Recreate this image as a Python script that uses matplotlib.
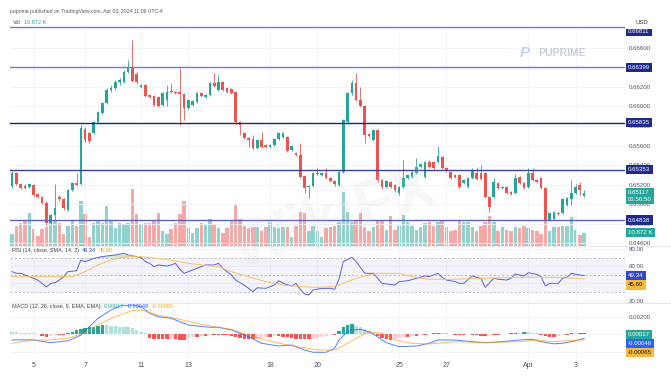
import matplotlib
matplotlib.use("Agg")
import matplotlib.pyplot as plt
from matplotlib.lines import Line2D
from matplotlib.transforms import Bbox, TransformedBbox
import numpy as np

plt.rcParams['font.family'] = ['Liberation Sans', 'DejaVu Sans']

# 4h candles, Mar 4 -> Apr 3
opens = [0.65185, 0.65318, 0.65205, 0.65185, 0.65174, 0.65195, 0.65103, 0.65072, 0.65011, 0.64806,
         0.64888, 0.65072, 0.65052, 0.64939, 0.65144, 0.65215, 0.65205, 0.65768, 0.65727, 0.65727,
         0.65840, 0.65932, 0.66034, 0.66167, 0.66188, 0.66249, 0.66249, 0.66352, 0.66392, 0.66331,
         0.66198, 0.66219, 0.66116, 0.66106, 0.66096, 0.66014, 0.66065, 0.66157, 0.66147, 0.66147,
         0.66126, 0.65983, 0.66014, 0.66045, 0.66137, 0.66096, 0.66116, 0.66239, 0.66167, 0.66249,
         0.66188, 0.66178, 0.66147, 0.65840, 0.65727, 0.65676, 0.65666, 0.65574, 0.65656, 0.65604,
         0.65584, 0.65604, 0.65666, 0.65686, 0.65686, 0.65553, 0.65522, 0.65502, 0.65287, 0.65174,
         0.65185, 0.65308, 0.65297, 0.65318, 0.65267, 0.65236, 0.65195, 0.65328, 0.65840, 0.66137,
         0.66239, 0.66065, 0.66004, 0.65717, 0.65656, 0.65758, 0.65246, 0.65174, 0.65226, 0.65195,
         0.65113, 0.65174, 0.65267, 0.65277, 0.65318, 0.65379, 0.65277, 0.65430, 0.65430, 0.65430,
         0.65482, 0.65369, 0.65328, 0.65297, 0.65297, 0.65215, 0.65174, 0.65267, 0.65318, 0.65318,
         0.65318, 0.65072, 0.65072, 0.65215, 0.65164, 0.65174, 0.65123, 0.65113, 0.65277, 0.65215,
         0.65174, 0.65318, 0.65246, 0.65267, 0.65164, 0.64837, 0.64847, 0.64909, 0.64909, 0.64990,
         0.65052, 0.65113, 0.65195, 0.65082]
highs = [0.65338, 0.65328, 0.65215, 0.65205, 0.65215, 0.65205, 0.65113, 0.65082, 0.65031, 0.64898,
         0.65205, 0.65093, 0.65062, 0.65154, 0.65226, 0.65318, 0.65809, 0.65789, 0.65738, 0.65850,
         0.65953, 0.66045, 0.66188, 0.66219, 0.66270, 0.66290, 0.66372, 0.66474, 0.66679, 0.66352,
         0.66229, 0.66229, 0.66126, 0.66116, 0.66106, 0.66147, 0.66219, 0.66239, 0.66157, 0.66392,
         0.66137, 0.66075, 0.66065, 0.66147, 0.66147, 0.66126, 0.66249, 0.66341, 0.66321, 0.66260,
         0.66198, 0.66188, 0.66157, 0.65850, 0.65738, 0.65686, 0.65707, 0.65666, 0.65738, 0.65615,
         0.65615, 0.65676, 0.65738, 0.65738, 0.65697, 0.65604, 0.65533, 0.65625, 0.65297, 0.65195,
         0.65328, 0.65369, 0.65328, 0.65369, 0.65277, 0.65246, 0.65338, 0.65871, 0.66147, 0.66270,
         0.66341, 0.66198, 0.66014, 0.65727, 0.65768, 0.65768, 0.65256, 0.65246, 0.65236, 0.65205,
         0.65185, 0.65451, 0.65308, 0.65338, 0.65471, 0.65420, 0.65440, 0.65451, 0.65440, 0.65594,
         0.65492, 0.65379, 0.65338, 0.65308, 0.65308, 0.65256, 0.65277, 0.65369, 0.65379, 0.65400,
         0.65328, 0.65082, 0.65267, 0.65226, 0.65185, 0.65185, 0.65134, 0.65308, 0.65287, 0.65226,
         0.65369, 0.65369, 0.65256, 0.65277, 0.65174, 0.64919, 0.64929, 0.64919, 0.65062, 0.65072,
         0.65246, 0.65205, 0.65226, 0.65144]
lows = [0.65164, 0.65195, 0.65154, 0.65154, 0.65164, 0.65082, 0.65062, 0.65001, 0.64786, 0.64796,
        0.64827, 0.65031, 0.64939, 0.64929, 0.65134, 0.65185, 0.65195, 0.65635, 0.65625, 0.65717,
        0.65830, 0.65922, 0.66024, 0.66147, 0.66167, 0.66219, 0.66239, 0.66341, 0.66249, 0.66229,
        0.66188, 0.66096, 0.66086, 0.66004, 0.65993, 0.66004, 0.66004, 0.66137, 0.66126, 0.65809,
        0.65861, 0.65973, 0.66004, 0.66034, 0.66096, 0.66086, 0.66106, 0.66198, 0.66157, 0.66157,
        0.66137, 0.66126, 0.65819, 0.65707, 0.65666, 0.65584, 0.65563, 0.65563, 0.65574, 0.65574,
        0.65574, 0.65594, 0.65656, 0.65676, 0.65533, 0.65543, 0.65492, 0.65267, 0.65113, 0.65062,
        0.65174, 0.65297, 0.65287, 0.65256, 0.65226, 0.65185, 0.65185, 0.65318, 0.65819, 0.66116,
        0.66055, 0.65993, 0.65625, 0.65686, 0.65645, 0.65226, 0.65154, 0.65164, 0.65164, 0.65123,
        0.65093, 0.65164, 0.65256, 0.65267, 0.65308, 0.65369, 0.65267, 0.65369, 0.65359, 0.65420,
        0.65359, 0.65328, 0.65256, 0.65267, 0.65164, 0.65205, 0.65164, 0.65256, 0.65246, 0.65246,
        0.65062, 0.64919, 0.65062, 0.65154, 0.65154, 0.65103, 0.65093, 0.65103, 0.65205, 0.65154,
        0.65164, 0.65236, 0.65215, 0.65154, 0.64827, 0.64827, 0.64837, 0.64888, 0.64898, 0.64980,
        0.64990, 0.65103, 0.65093, 0.65072]
closes = [0.65318, 0.65205, 0.65164, 0.65164, 0.65205, 0.65093, 0.65072, 0.65011, 0.64806, 0.64888,
          0.64960, 0.65052, 0.64960, 0.65144, 0.65215, 0.65195, 0.65779, 0.65656, 0.65645, 0.65840,
          0.65942, 0.66034, 0.66167, 0.66188, 0.66249, 0.66270, 0.66352, 0.66392, 0.66260, 0.66249,
          0.66219, 0.66106, 0.66096, 0.66014, 0.66004, 0.66137, 0.66147, 0.66147, 0.66137, 0.66126,
          0.65983, 0.66065, 0.66055, 0.66137, 0.66106, 0.66116, 0.66239, 0.66208, 0.66249, 0.66167,
          0.66147, 0.66137, 0.65840, 0.65809, 0.65676, 0.65656, 0.65574, 0.65656, 0.65584, 0.65584,
          0.65604, 0.65666, 0.65727, 0.65727, 0.65543, 0.65594, 0.65502, 0.65277, 0.65164, 0.65185,
          0.65318, 0.65318, 0.65318, 0.65267, 0.65236, 0.65205, 0.65328, 0.65861, 0.66137, 0.66239,
          0.66065, 0.66004, 0.65707, 0.65697, 0.65758, 0.65246, 0.65174, 0.65236, 0.65174, 0.65144,
          0.65174, 0.65267, 0.65297, 0.65328, 0.65379, 0.65410, 0.65430, 0.65379, 0.65369, 0.65492,
          0.65369, 0.65338, 0.65267, 0.65277, 0.65174, 0.65246, 0.65267, 0.65348, 0.65256, 0.65256,
          0.65072, 0.64970, 0.65226, 0.65164, 0.65174, 0.65113, 0.65103, 0.65267, 0.65215, 0.65164,
          0.65318, 0.65246, 0.65226, 0.65164, 0.64837, 0.64909, 0.64919, 0.64898, 0.65052, 0.65062,
          0.65113, 0.65174, 0.65144, 0.65117]
# volume in thousands
volumes = [10, 17, 19, 21, 28, 14, 8, 14, 16, 21, 21, 19, 10, 17, 21, 17, 38, 27, 7, 19,
           21, 19, 34, 21, 15, 19, 18, 19, 48, 27, 18, 19, 19, 21, 28, 12, 10, 14, 19, 27,
           38, 15, 11, 15, 19, 18, 23, 18, 15, 11, 15, 22, 35, 23, 17, 15, 16, 16, 12, 16,
           20, 16, 15, 16, 16, 7, 17, 29, 28, 12, 17, 12, 7, 15, 16, 17, 20, 46, 29, 20,
           22, 28, 16, 12, 16, 22, 22, 13, 25, 13, 17, 26, 20, 17, 13, 16, 19, 20, 17, 20,
           22, 16, 12, 13, 22, 20, 20, 16, 12, 17, 20, 25, 20, 12, 16, 13, 12, 16, 15, 17,
           15, 13, 12, 10, 22, 12, 16, 16, 17, 17, 24, 13, 9, 10.872]

# RSI (14) and its SMA, sampled along the candles
rsi_idx = [0, 1, 2, 3, 4, 5, 6, 8, 9, 10, 11, 12, 13, 15, 16, 17, 18, 19, 20, 22,
           24, 26, 27, 29, 30, 31, 32, 33, 34, 36, 37, 38, 39, 40, 41, 42, 44, 45, 47, 48,
           49, 51, 52, 54, 56, 57, 59, 61, 62, 63, 65, 66, 67, 68, 69, 70, 72, 74, 75, 76,
           77, 79, 80, 82, 84, 86, 87, 89, 90, 92, 94, 96, 97, 99, 100, 101, 103, 104, 105, 107,
           108, 109, 110, 112, 113, 115, 116, 117, 119, 120, 122, 123, 124, 125, 127, 128, 129, 130, 132, 133]
rsi_val = [54, 52, 52, 50, 48, 46, 44, 36, 40, 41, 44, 48, 54, 55, 67.6, 65.7, 67.6, 69.6, 70.8, 72.4,
           73.5, 75.5, 73.5, 71.6, 70.8, 65.7, 63.7, 59.8, 61.8, 60.6, 61.8, 63.7, 56.7, 52, 53.9, 55.9, 59.8, 61.8, 61.8, 63.7,
           57.8, 50, 44, 38, 30.4, 35, 34.3, 38.2, 43.3, 40.2, 37, 40.2, 33.1, 27.6, 26.5, 32.4, 34.3, 34.3, 33.1, 45,
           65.7, 70.8, 65.7, 52, 52, 40.2, 39.5, 38.2, 42.2, 43.3, 46.1, 48.8, 48.2, 52, 47.3, 44.1, 42.2, 40.2, 40.2, 48.8,
           47.3, 46.1, 35.5, 46.1, 45, 44.1, 46.1, 51.2, 48.8, 52.7, 50.8, 48, 37, 40.2, 40.2, 46.1, 47.3, 52, 50, 49.34]
rsi_ma_idx = [0, 14, 17, 20, 23, 27, 30, 36, 41, 44, 48, 51, 55, 59, 63, 67, 71, 75, 77, 80,
              83, 85, 90, 94, 97, 103, 110, 118, 126, 133]
rsi_ma_val = [48, 48, 53.9, 61.8, 67.6, 72.4, 71.6, 68.4, 63.7, 61.8, 59.8, 53.9, 48, 42.2, 38.2, 36.3, 35.5, 36.3, 40.2, 46.1,
              50, 52, 52, 47, 45, 45, 46.1, 47.3, 47.3, 45.6]

# MACD (12, 26, 9), values in 1e-4
macd_idx = [0, 2, 5, 9, 13, 16, 18, 20, 23, 25, 28, 30, 32, 34, 37, 39, 41, 44, 46, 48,
            51, 55, 58, 62, 65, 68, 70, 73, 75, 76, 78, 79, 81, 83, 85, 87, 90, 94, 97, 99,
            103, 107, 110, 114, 118, 121, 123, 126, 128, 131, 133]
macd_val = [-6.6, -6.4, -6.6, -9.7, -7.5, -1, 8.8, 18.5, 28, 32.7, 33.9, 32, 24.3, 20.4, 18.5, 14.6, 10.8, 9, 8.1, 8.1,
            5, -2.8, -10.4, -13.5, -12.4, -18.2, -20.8, -20.8, -16.2, -6.6, 3, 5, 5.7, 3, -2.8, -9.7, -14.3, -13.5, -10.4, -6.6,
            -6.6, -8.5, -9.7, -8.5, -6.6, -5.8, -8.5, -11, -10.4, -7.5, -4.8]
signal_idx = [0, 5, 9, 13, 17, 20, 24, 28, 30, 34, 39, 44, 48, 51, 55, 59, 63, 67, 71, 75,
              77, 80, 83, 86, 89, 93, 97, 103, 110, 118, 122, 126, 133]
signal_val = [-10.4, -6.6, -6.6, -4.6, 1.9, 10.8, 20.4, 27.3, 28, 22.3, 17.3, 11.5, 8.1, 5.8, -1, -6.6, -11.2, -15, -18.2, -18.2,
              -13.5, -4.6, 3, 1, -6.6, -10.4, -11.2, -8.5, -9.7, -8.5, -6.6, -8.5, -6.5]
hist_val = [3, 3, 2, 2, 1, 1, 0, -2, -3, -2, -1, -1, -1, 1, 3, 5, 6, 7, 8, 9,
            10, 11, 11, 10, 10, 9, 9, 8, 7, 5, 3, 1, -4, -5, -5, -6, -6, -5, -6, -7,
            -7, -4, -3, -3, -2, -2, -1, -1, -1, -1, -1, -2, -3, -4, -5, -6, -6, -5, -4, -3,
            -3, -2, -2, -3, -3, -4, -5, -5, -6, -6, -5, -4, -3, -2, -1, -1, 4, 8, 11, 12,
            10, 8, 6, 4, 2, -2, -4, -6, -7, -6, -4, -3, -3, -2, -2, -1, -1, 0, 1, 2,
            2, 1, 0, -1, -1, -1, 0, -1, -1, -2, -2, -1, -1, -1, 0, 0, 1, 2, 2, 3,
            3, 2, 2, -1, -2, -3, -3, -2, -1, -1, 1, 1, 1.5, 1.7]

levels = [0.66811, 0.66399, 0.65835, 0.65353, 0.64838]
level_colors = ['#7479cc', '#7479cc', '#1c2283', '#3a40a0', '#5c61bb']
day_pos = [5, 17, 30, 41, 60, 71, 90, 101, 120, 131]
day_labels = ['5', '7', '11', '13', '18', '20', '25', '27', 'Apr', '3']

UP, DOWN = '#26a69a', '#ef5350'
GRID = '#f0f3fa'
TXT = '#50535e'

W, H = 671, 379
fig = plt.figure(figsize=(W / 100, H / 100), dpi=100)
fig.patch.set_facecolor('white')


def pane(top, bottom):
    return fig.add_axes([10 / W, 1 - bottom / H, 615 / W, (bottom - top) / H])


ax_v = pane(26, 245.5)
ax_p = pane(26, 245.5)
ax_r = pane(245.5, 303)
ax_m = pane(303, 358)
ax_v.set_zorder(0)
ax_p.set_zorder(1)
ax_p.patch.set_alpha(0)

x = np.arange(len(closes))
o, h, l, c = map(np.array, (opens, highs, lows, closes))
up = c >= o
cols = np.where(up, UP, DOWN)

for ax in (ax_v, ax_p, ax_r, ax_m):
    ax.set_xlim(-0.47, 142.5)
    for s in ax.spines.values():
        s.set_visible(False)
    ax.tick_params(length=0, labelsize=4.4, labelcolor=TXT, pad=3)
    ax.yaxis.tick_right()
    ax.set_xticks(day_pos)
    ax.set_xticklabels([])
    ax.grid(True, color=GRID, lw=0.6)
    ax.set_axisbelow(True)

# volume
ax_v.bar(x, volumes, width=0.8, color=cols, alpha=0.5, lw=0)
ax_v.set_ylim(0, 188)
ax_v.set_yticks([])
ax_v.grid(False)

# candles
ax_p.vlines(x, l, h, colors=cols, lw=0.6, zorder=3)
ax_p.bar(x, np.maximum(np.abs(c - o), 0.00003), bottom=np.minimum(o, c), width=0.62,
         color=cols, lw=0, zorder=4)
ax_p.set_ylim(0.645775, 0.668219)
pt = np.arange(0.646, 0.6661, 0.002)
ax_p.set_yticks(pt)
ax_p.set_yticklabels(['%.5f' % v for v in pt])
for lv, lc in zip(levels, level_colors):
    ax_p.axhline(lv, color=lc, lw=1.0, zorder=5)

# right-hand tags stay below the top edge of the chart
top_clip = TransformedBbox(Bbox([[0, 0], [1, 1 - 29 / H]]), fig.transFigure)


def tag(ax, y, text, fc, tc='white', dy=0, va='center'):
    a = ax.annotate(text, xy=(1, y), xycoords=('axes fraction', 'data'),
                    xytext=(2.3, -dy * 0.72), textcoords='offset points',
                    fontsize=4.4, color=tc, va=va, ha='left', linespacing=1.5,
                    bbox=dict(boxstyle='square,pad=0.35', fc=fc, ec='none'),
                    annotation_clip=False, zorder=20)
    a.set_clip_box(top_clip)
    a.set_clip_on(True)
    return a


for i, lv in enumerate(levels):
    tag(ax_p, lv, '%.5f' % lv, '#1f2a8c', dy=4.5 if i == 0 else 0)
tag(ax_p, closes[-1], '%.5f\n01:50:50' % closes[-1], UP, dy=-2.5, va='top')
ax_v.annotate('%.3f K' % volumes[-1], xy=(1, volumes[-1]), xycoords=('axes fraction', 'data'),
              xytext=(2.3, 0), textcoords='offset points', fontsize=4.4, color='white',
              va='center', ha='left', bbox=dict(boxstyle='square,pad=0.35', fc=UP, ec='none'),
              annotation_clip=False, zorder=20)

# RSI
ax_r.set_ylim(17.06, 84.7)
ax_r.set_yticks([20, 40, 60, 80])
ax_r.set_yticklabels(['20.00', '40.00', '60.00', '80.00'])
ax_r.axhspan(30, 70, color='#7e57c2', alpha=0.07, lw=0)
for lv in (70, 50, 30):
    ax_r.axhline(lv, color='#a3a6af', lw=0.5, ls=(0, (3, 3)))
rv = np.array(rsi_val)
ax_r.fill_between(rsi_idx, rv, 70, where=rv > 70, interpolate=True, color='#4caf50', alpha=0.25, lw=0)
ax_r.fill_between(rsi_idx, rv, 30, where=rv < 30, interpolate=True, color='#ef5350', alpha=0.2, lw=0)
ax_r.plot(rsi_idx, rsi_val, color='#5b63d3', lw=0.7)
ax_r.plot(rsi_ma_idx, rsi_ma_val, color='#f3c35f', lw=0.7)
tag(ax_r, rsi_val[-1], '%.2f' % rsi_val[-1], '#3447c4')
tag(ax_r, rsi_ma_val[-1], '%.2f' % rsi_ma_val[-1], '#f6b93b', tc='#131722', dy=6.2)

# MACD
hist = np.array(hist_val) * 1e-4
prev = np.r_[hist[0], hist[:-1]]
hcol = np.where(hist >= 0, np.where(hist > prev, '#26a69a', '#b2dfdb'),
                np.where(hist > prev, '#ffcdd2', '#ff5252'))
ax_m.bar(x, hist, width=0.8, color=hcol, lw=0)
macd = np.array(macd_val) * 1e-4
sig = np.array(signal_val) * 1e-4
ax_m.plot(macd_idx, macd, color='#2962ff', lw=0.7, alpha=0.8)
ax_m.plot(signal_idx, sig, color='#ff9800', lw=0.7, alpha=0.65)
ax_m.set_ylim(-0.00274, 0.003618)
ax_m.set_yticks([-0.002, 0, 0.002])
ax_m.set_yticklabels(['-0.00200', '0.00000', '0.00200'])
tag(ax_m, hist[-1], '%.5f' % hist[-1], UP, dy=1.5)
tag(ax_m, macd[-1], '%.5f' % macd[-1], '#2962ff', dy=4.9)
tag(ax_m, sig[-1], '%.5f' % sig[-1], '#f6b93b', tc='#131722', dy=12.8)
ax_m.set_xticklabels(day_labels)
ax_m.tick_params(axis='x', labelsize=5, pad=3)

# pane separators
for yy in (245.5, 303):
    fig.add_artist(Line2D([10 / W, 1], [1 - yy / H] * 2, color='#e0e3eb', lw=0.6))

# header / legends
fig.text(10 / W, 1 - 12 / H, 'puprime published on TradingView.com, Apr 03, 2024 11:09 UTC-4',
         fontsize=3.7, color='#555', va='center')
fig.text(636 / W, 1 - 23 / H, 'USD', fontsize=4.3, color='#333', va='center')

rend = fig.canvas.get_renderer()


def row(items, x0, y0, fs=4.0):
    xx = x0
    for s, col in items:
        t = fig.text(xx / W, 1 - y0 / H, s, color=col, fontsize=fs, va='center')
        xx += t.get_window_extent(rend).width + 3


row([('Vol', '#444'), ('%.3f K' % volumes[-1], UP)], 13, 23)
row([('RSI (14, close, SMA, 14, 2)', '#444'), ('%.2f' % rsi_val[-1], '#3447c4'),
     ('%.2f' % rsi_ma_val[-1], '#f0a820')], 12, 250.5)
row([('MACD (12, 26, close, 9, EMA, EMA)', '#444'), ('%.5f' % hist[-1], UP),
     ('%.5f' % macd[-1], '#2962ff'), ('%.5f' % sig[-1], '#f0a820')], 12, 306.5)

# watermarks
fig.text(520 / W, 1 - 53 / H, 'P', fontsize=11, color='#c4d4f2', style='italic',
         weight='bold', va='center')
fig.text(538 / W, 1 - 53 / H, 'PUPRIME', fontsize=7.5, color='#c9ced6', weight='bold', va='center')
fig.text(335 / W, 1 - 220 / H, 'WikiFX', fontsize=46, color='#d0d0d0', alpha=0.17,
         weight='bold', rotation=18, ha='center', va='center')

fig.savefig('out.png', dpi=100, facecolor='white')
